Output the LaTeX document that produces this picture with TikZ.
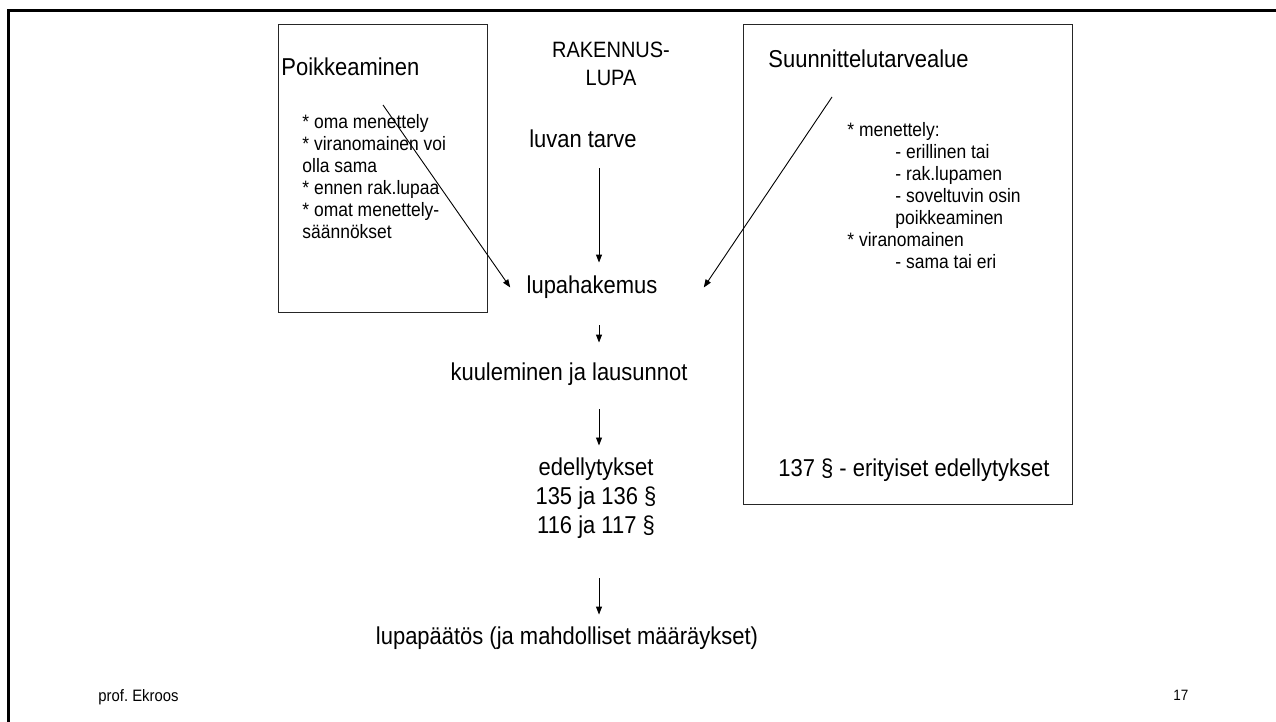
\documentclass[tikz,border=0pt]{standalone}
\usepackage{fontspec}
\setmainfont[FakeStretch=0.9]{Liberation Sans}
\usetikzlibrary{arrows.meta}
\frenchspacing
\begin{document}
\begin{tikzpicture}[x=1pt, y=-1pt, line width=0.9pt, >={Triangle[width=6pt,length=8pt]},
        txt/.style={inner sep=0pt, font=\fontsize{24.4}{29}\selectfont},
        one/.style={txt, text height=16pt, text depth=5pt},
        lst/.style={inner sep=0pt, font=\fontsize{19.4}{22}\selectfont, align=left, anchor=north west},
        box/.style={draw=black!85, rectangle, line width=1.3pt, inner sep=0pt, anchor=north west}]
        \useasboundingbox (0,0) rectangle (1276,722);
        \draw[line width=3pt] (8.5,722) -- (8.5,10.5) -- (1276,10.5);

        \node (poikkeaminen) [box, minimum width=209pt, minimum height=288pt] at (278,24) {};
        \node (suunnittelu) [box, minimum width=329pt, minimum height=480pt] at (743,24) {};

        \node (poiktitle) [one, anchor=base west] at (281,76) {Poikkeaminen};
        \node (poiklist) [lst] at (302,114.1) {* oma menettely\\* viranomainen voi\\olla sama\\* ennen rak.lupaa\\* omat menettely-\\säännökset};
        \node (suuntitle) [one, anchor=base west] at (768,68) {Suunnittelutarvealue};
        \node (suunlist) [lst] at (847,122.1) {* menettely:\\\hspace*{48pt}- erillinen tai\\\hspace*{48pt}- rak.lupamen\\\hspace*{48pt}- soveltuvin osin\\\hspace*{48pt}poikkeaminen\\* viranomainen\\\hspace*{48pt}- sama tai eri};
        \node (erityiset) [one, anchor=base west] at (778,476) {137 § - erityiset edellytykset};

        \node (rakennuslupa) [inner sep=0pt, font=\fontsize{22.2}{28}\selectfont, align=center, anchor=north] at (611,41.1) {RAKENNUS-\\LUPA};
        \node (tarve) [one, anchor=base] at (583,148) {luvan tarve};
        \node (hakemus) [one, anchor=base] at (592,293) {lupahakemus};
        \node (kuuleminen) [one, anchor=base] at (569,380) {kuuleminen ja lausunnot};
        \node (edellytykset) [txt, align=center, anchor=north] at (596,457.5) {edellytykset\\135 ja 136 §\\116 ja 117 §};
        \node (paatos) [one, anchor=base] at (567,644) {lupapäätös (ja mahdolliset määräykset)};

        \node (tekija) [inner sep=0pt, font=\fontsize{16.5}{18}\selectfont, anchor=base west] at (98,701) {prof. Ekroos};
        \node (sivu) [inner sep=0pt, font=\fontsize{15}{16}\selectfont, anchor=base west] at (1173,700) {17};

        \coordinate (spine) at (599,0);
        \coordinate (poikfrom) at (383,105);
        \coordinate (suunfrom) at (832,97);

        \draw[->, shorten <=15pt, shorten >=14pt] (tarve.south -| spine) -- (hakemus.north -| spine);
        \draw[->, shorten <=27pt, shorten >=21pt] (hakemus.south -| spine) -- (kuuleminen.north -| spine);
        \draw[->, shorten <=24pt, shorten >=12pt] (kuuleminen.south -| spine) -- (edellytykset.north -| spine);
        \draw[->, shorten <=39pt, shorten >=13pt] (edellytykset.south -| spine) -- (paatos.north -| spine);
        \draw[->] (poikfrom) -- ([xshift=-16pt]hakemus.west);
        \draw[->] (suunfrom) -- ([xshift=46pt]hakemus.east);
    \end{tikzpicture}
\end{document}
